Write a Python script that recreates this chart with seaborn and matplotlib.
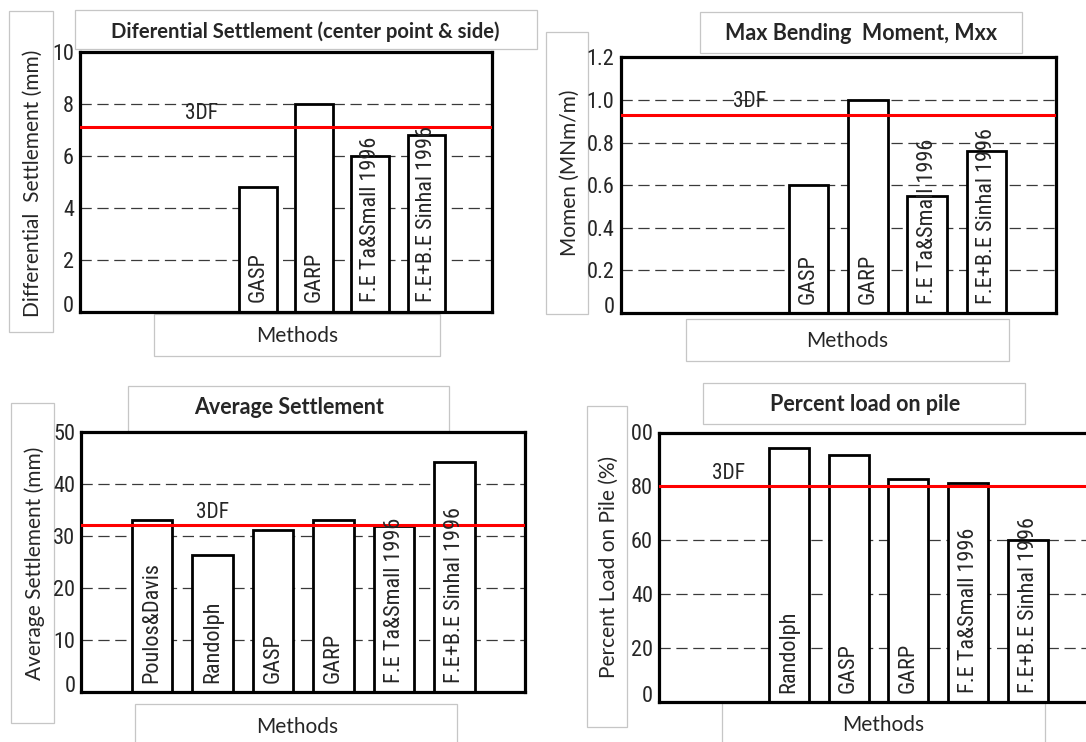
import matplotlib
matplotlib.use("Agg")
import matplotlib.pyplot as plt
from matplotlib import font_manager
from matplotlib.patches import Rectangle
import pandas as pd
import seaborn as sns

# ---------------- data ----------------
ALL_METHODS = ["Poulos&Davis", "Randolph", "GASP", "GARP",
               "F.E Ta&Small 1996", "F.E+B.E Sinhal 1996"]

diff_methods = ["GASP", "GARP", "F.E Ta&Small 1996", "F.E+B.E Sinhal 1996"]
diff_values = [4.8, 8.0, 6.0, 6.8]
diff_3df = 7.1
diff_ticks = [0, 2, 4, 6, 8, 10]
diff_ticklabels = ["0", "2", "4", "6", "8", "10"]

moment_methods = ["GASP", "GARP", "F.E Ta&Small 1996", "F.E+B.E Sinhal 1996"]
moment_values = [0.60, 1.00, 0.55, 0.76]
moment_3df = 0.93
moment_ticks = [0, 0.2, 0.4, 0.6, 0.8, 1.0, 1.2]
moment_ticklabels = ["0", "0.2", "0.4", "0.6", "0.8", "1.0", "1.2"]

avg_methods = ["Poulos&Davis", "Randolph", "GASP", "GARP",
               "F.E Ta&Small 1996", "F.E+B.E Sinhal 1996"]
avg_values = [33.0, 26.3, 31.2, 33.0, 31.8, 44.2]
avg_3df = 32.0
avg_ticks = [0, 10, 20, 30, 40, 50]
avg_ticklabels = ["0", "10", "20", "30", "40", "50"]

load_methods = ["Randolph", "GASP", "GARP", "F.E Ta&Small 1996",
                "F.E+B.E Sinhal 1996"]
load_values = [94.3, 91.7, 82.8, 81.4, 60.0]
load_3df = 80.0
load_ticks = [0, 20, 40, 60, 80, 100]
load_ticklabels = ["0", "20", "40", "60", "80", "100"]

# ---------------- style ----------------
sns.set_style("white")
_names = {f.name for f in font_manager.fontManager.ttflist}
NARROW, NARROW_SCALE = "Liberation Sans", 0.85
for _cand in ("Liberation Sans Narrow", "Roboto Condensed", "Arial Narrow"):
    if _cand in _names:
        NARROW, NARROW_SCALE = _cand, 1.0
        break
BODY = "Lato" if "Lato" in _names else "Open Sans"
plt.rcParams["font.family"] = [BODY, "DejaVu Sans"]

W, H = 1086, 742
fig = plt.figure(figsize=(W / 100, H / 100), dpi=100)
fig.patch.set_facecolor("white")


def fig_rect(left, top, right, bottom):
    return [left / W, 1 - bottom / H, (right - left) / W, (bottom - top) / H]


def label_box(left, top, right, bottom, z=-1):
    fig.add_artist(Rectangle((left / W, 1 - bottom / H), (right - left) / W,
                             (bottom - top) / H, transform=fig.transFigure,
                             facecolor="white", edgecolor="#c6c6c6",
                             linewidth=0.9, zorder=z))


def fig_label(x, y, text, rotation=0, bold=False, size=15):
    fig.text(x / W, 1 - y / H, text, ha="center", va="center",
             rotation=rotation, fontsize=size,
             fontweight="bold" if bold else "normal", zorder=5)


def draw_panel(box, methods, values, ref, ticks, ticklabels, ref_idx):
    ax = fig.add_axes(fig_rect(*box))
    df = pd.DataFrame({"method": methods, "value": values})
    sns.barplot(data=df, x="method", y="value", order=ALL_METHODS,
                color="white", saturation=1, edgecolor="black",
                linewidth=2.0, width=0.67, errorbar=None, ax=ax, zorder=2)
    ax.set_xlim(-1.17, 6.17)
    ax.set_ylim(ticks[0], ticks[-1])
    ax.set_yticks(ticks)
    ax.set_yticklabels(ticklabels, fontfamily=NARROW, fontsize=16 * NARROW_SCALE)
    ax.set_xticks([])
    ax.set_xlabel("")
    ax.set_ylabel("")
    ax.tick_params(axis="y", length=0, pad=4.3)
    ax.yaxis.grid(True, color="#3a3a3a", linewidth=0.9, linestyle=(0, (9, 4.5)))
    ax.set_axisbelow(True)
    for sp in ax.spines.values():
        sp.set_visible(True)
        sp.set_color("black")
        sp.set_linewidth(2.3)
    ax.get_yticklabels()[0].set_va("baseline")

    # reference (3DF) result
    ax.axhline(ref, color="#ff0000", linewidth=2.2, zorder=3)
    ax.annotate("3DF", xy=(ref_idx, ref), xytext=(0, 2), textcoords="offset points",
                ha="center", va="bottom", fontfamily=NARROW,
                fontsize=15.5 * NARROW_SCALE, zorder=4)

    # method names written up the bars
    for m in methods:
        i = ALL_METHODS.index(m)
        ax.annotate(m, xy=(i, 0), xytext=(0, 6.5), textcoords="offset points",
                    rotation=90, ha="center", va="bottom", fontfamily=NARROW,
                    fontsize=16 * NARROW_SCALE, zorder=5)
    return ax


# ---- top left: differential settlement ----
label_box(75, 10, 537, 49)
label_box(9, 11, 53, 332)
label_box(154, 314, 440, 356)
draw_panel((80, 52, 492, 311.5), diff_methods, diff_values, diff_3df,
           diff_ticks, diff_ticklabels, 1)
fig_label(305, 32, "Diferential Settlement (center point & side)", bold=True, size=14.6)
fig_label(33, 183, "Differential  Settlement (mm)", rotation=90)
fig_label(297, 336, "Methods")

# ---- top right: bending moment ----
label_box(700, 12, 1022, 53)
label_box(546, 32, 588, 314)
label_box(686, 319, 1009, 361)
draw_panel((620.5, 57.3, 1056, 313), moment_methods, moment_values, moment_3df,
           moment_ticks, moment_ticklabels, 1)
fig_label(861, 34, "Max Bending  Moment, Mxx", bold=True, size=15.5)
fig_label(570, 173, "Momen (MNm/m)", rotation=90)
fig_label(847, 341, "Methods")

# ---- bottom left: average settlement ----
label_box(128, 386, 449, 431)
label_box(11, 403, 54, 723)
label_box(135, 704, 457, 746)
draw_panel((81.3, 431.7, 525.3, 692), avg_methods, avg_values, avg_3df,
           avg_ticks, avg_ticklabels, 1)
fig_label(289, 408, "Average Settlement", bold=True, size=15.5)
fig_label(35, 563, "Average Settlement (mm)", rotation=90)
fig_label(297, 727, "Methods")

# ---- bottom right: percent load on pile ----
label_box(703, 383, 1025, 424)
label_box(587, 406, 627, 727, z=2.5)
label_box(722, 702.5, 1045, 746)
draw_panel((659, 432.5, 1098, 702), load_methods, load_values, load_3df,
           load_ticks, load_ticklabels, 0)
fig_label(865, 404, "Percent load on pile", bold=True, size=15.5)
fig_label(609, 567, "Percent Load on Pile (%)", rotation=90)
fig_label(883, 725, "Methods")

fig.savefig("out.png", dpi=100, facecolor="white")
